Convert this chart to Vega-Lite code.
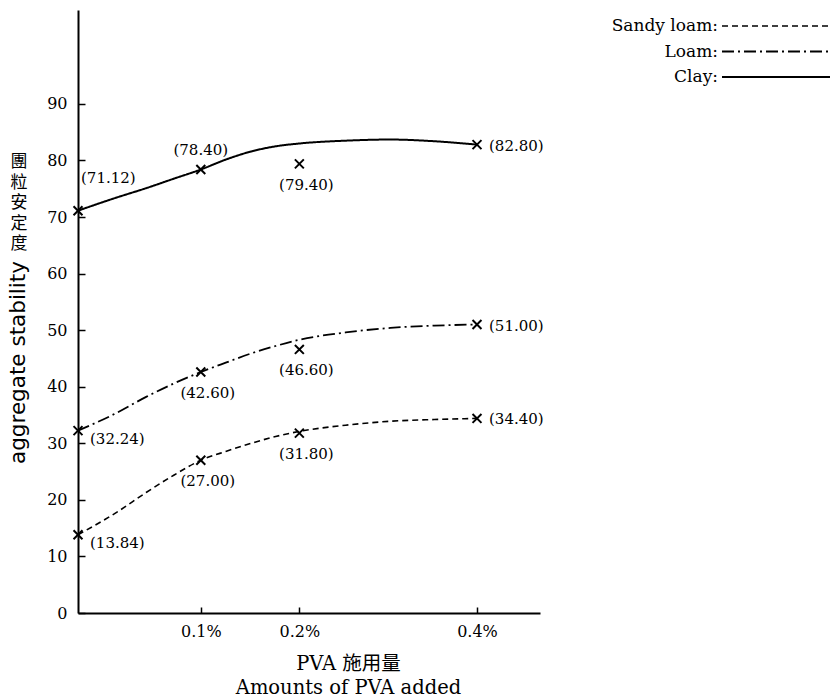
{
  "$schema": "https://vega.github.io/schema/vega-lite/v6.json",
  "width": 462,
  "height": 603,
  "autosize": {"type": "none"},
  "padding": {"left": 78, "top": 10, "right": 298, "bottom": 87},
  "background": "white",
  "config": {"view": {"stroke": null}, "font": "DejaVu Serif"},
  "title": {
    "text": ["團", "粒", "安", "定", "度"],
    "orient": "left",
    "angle": 0,
    "anchor": "end",
    "align": "center",
    "baseline": "top",
    "font": "Noto Sans CJK TC",
    "fontSize": 17,
    "fontWeight": "normal",
    "lineHeight": 20.5,
    "color": "black",
    "offset": 0,
    "dx": 29,
    "dy": 144
  },
  "datasets": {
    "curves": [
      {"soil": "Clay", "pva": 0, "stability": 71.12},
      {"soil": "Clay", "pva": 0.025, "stability": 73.4},
      {"soil": "Clay", "pva": 0.05, "stability": 75.1},
      {"soil": "Clay", "pva": 0.075, "stability": 76.8},
      {"soil": "Clay", "pva": 0.1, "stability": 78.4},
      {"soil": "Clay", "pva": 0.125, "stability": 80.2},
      {"soil": "Clay", "pva": 0.15, "stability": 81.6},
      {"soil": "Clay", "pva": 0.175, "stability": 82.5},
      {"soil": "Clay", "pva": 0.2, "stability": 83.0},
      {"soil": "Clay", "pva": 0.25, "stability": 83.5},
      {"soil": "Clay", "pva": 0.3, "stability": 83.7},
      {"soil": "Clay", "pva": 0.35, "stability": 83.4},
      {"soil": "Clay", "pva": 0.4, "stability": 82.8},
      {"soil": "Loam", "pva": 0, "stability": 32.24},
      {"soil": "Loam", "pva": 0.025, "stability": 35.3},
      {"soil": "Loam", "pva": 0.05, "stability": 38.2},
      {"soil": "Loam", "pva": 0.075, "stability": 40.6},
      {"soil": "Loam", "pva": 0.1, "stability": 42.6},
      {"soil": "Loam", "pva": 0.125, "stability": 44.3},
      {"soil": "Loam", "pva": 0.15, "stability": 45.9},
      {"soil": "Loam", "pva": 0.175, "stability": 47.2},
      {"soil": "Loam", "pva": 0.2, "stability": 48.3},
      {"soil": "Loam", "pva": 0.25, "stability": 49.6},
      {"soil": "Loam", "pva": 0.3, "stability": 50.4},
      {"soil": "Loam", "pva": 0.35, "stability": 50.8},
      {"soil": "Loam", "pva": 0.4, "stability": 51.0},
      {"soil": "Sandy loam", "pva": 0, "stability": 13.84},
      {"soil": "Sandy loam", "pva": 0.025, "stability": 17.7},
      {"soil": "Sandy loam", "pva": 0.05, "stability": 21.3},
      {"soil": "Sandy loam", "pva": 0.075, "stability": 24.4},
      {"soil": "Sandy loam", "pva": 0.1, "stability": 27.0},
      {"soil": "Sandy loam", "pva": 0.125, "stability": 28.6},
      {"soil": "Sandy loam", "pva": 0.15, "stability": 30.0},
      {"soil": "Sandy loam", "pva": 0.175, "stability": 31.2},
      {"soil": "Sandy loam", "pva": 0.2, "stability": 32.1},
      {"soil": "Sandy loam", "pva": 0.25, "stability": 33.2},
      {"soil": "Sandy loam", "pva": 0.3, "stability": 33.9},
      {"soil": "Sandy loam", "pva": 0.35, "stability": 34.2},
      {"soil": "Sandy loam", "pva": 0.4, "stability": 34.4}
    ],
    "points": [
      {"soil": "Clay", "pva": 0, "stability": 71.12, "label": "(71.12)"},
      {"soil": "Clay", "pva": 0.1, "stability": 78.4, "label": "(78.40)"},
      {"soil": "Clay", "pva": 0.2, "stability": 79.4, "label": "(79.40)"},
      {"soil": "Clay", "pva": 0.4, "stability": 82.8, "label": "(82.80)"},
      {"soil": "Loam", "pva": 0, "stability": 32.24, "label": "(32.24)"},
      {"soil": "Loam", "pva": 0.1, "stability": 42.6, "label": "(42.60)"},
      {"soil": "Loam", "pva": 0.2, "stability": 46.6, "label": "(46.60)"},
      {"soil": "Loam", "pva": 0.4, "stability": 51.0, "label": "(51.00)"},
      {"soil": "Sandy loam", "pva": 0, "stability": 13.84, "label": "(13.84)"},
      {"soil": "Sandy loam", "pva": 0.1, "stability": 27.0, "label": "(27.00)"},
      {"soil": "Sandy loam", "pva": 0.2, "stability": 31.8, "label": "(31.80)"},
      {"soil": "Sandy loam", "pva": 0.4, "stability": 34.4, "label": "(34.40)"}
    ]
  },
  "encoding": {
    "x": {
      "field": "pva",
      "type": "quantitative",
      "scale": {"type": "pow", "exponent": 0.85, "domain": [0, 0.4753], "nice": false},
      "axis": {
        "values": [0.1, 0.2, 0.4],
        "labelExpr": "format(datum.value, '.1f') + '%'",
        "grid": false,
        "domainColor": "black",
        "domainWidth": 2,
        "tickColor": "black",
        "tickWidth": 1.5,
        "tickSize": -6,
        "labelPadding": 16,
        "labelFont": "DejaVu Serif",
        "labelFontSize": 16,
        "labelColor": "black",
        "title": ["PVA 施用量", "Amounts of PVA added"],
        "titleFont": "DejaVu Serif, Noto Sans CJK TC",
        "titleFontSize": 19.5,
        "titleFontWeight": "normal",
        "titleColor": "black",
        "titleLineHeight": 24,
        "titleX": 270,
        "titleY": 41,
        "titleBaseline": "top"
      }
    },
    "y": {
      "field": "stability",
      "type": "quantitative",
      "scale": {"domain": [0, 106.6], "nice": false},
      "axis": {
        "values": [0, 10, 20, 30, 40, 50, 60, 70, 80, 90],
        "grid": false,
        "domainColor": "black",
        "domainWidth": 2,
        "tickColor": "black",
        "tickWidth": 1.5,
        "tickSize": -7,
        "labelPadding": 18,
        "labelFont": "DejaVu Serif",
        "labelFontSize": 16,
        "labelColor": "black",
        "title": "aggregate stability",
        "titleFont": "DejaVu Sans",
        "titleFontSize": 21.5,
        "titleFontWeight": "normal",
        "titleColor": "black",
        "titleAngle": 270,
        "titleAlign": "center",
        "titleBaseline": "middle",
        "titleX": -60,
        "titleY": 352
      }
    }
  },
  "layer": [
    {
      "data": {"name": "curves"},
      "mark": {"type": "line", "color": "black", "interpolate": "monotone"},
      "encoding": {
        "detail": {"field": "soil"},
        "strokeDash": {
          "field": "soil",
          "type": "nominal",
          "scale": {"domain": ["Sandy loam", "Loam", "Clay"], "range": [[6, 4], [12, 4, 2, 4], [1, 0]]},
          "legend": {
            "title": null,
            "orient": "none",
            "legendX": 688,
            "legendY": 6,
            "symbolType": "M-6,0L6,0",
            "symbolSize": 324,
            "symbolStrokeColor": "black",
            "symbolStrokeWidth": 2,
            "labelFont": "DejaVu Serif",
            "labelFontSize": 17,
            "labelColor": "black",
            "labelAlign": "right",
            "labelOffset": -68,
            "labelExpr": "datum.label + ':'",
            "rowPadding": 7.5,
            "padding": 0,
            "encode": {
              "symbols": {
                "update": {
                  "strokeDash": {
                    "condition": [
                      {"test": "datum.value === 'Sandy loam'", "value": [1, 3]},
                      {"test": "datum.value === 'Loam'", "value": [13, 5, 3, 5]}
                    ],
                    "value": [1, 0]
                  },
                  "strokeWidth": {
                    "condition": [
                      {"test": "datum.value === 'Clay'", "value": 3},
                      {"test": "datum.value === 'Loam'", "value": 1.8}
                    ],
                    "value": 1
                  }
                }
              }
            }
          }
        },
        "strokeWidth": {
          "field": "soil",
          "type": "nominal",
          "scale": {"domain": ["Sandy loam", "Loam", "Clay"], "range": [1.6, 2, 2.6]},
          "legend": null
        }
      }
    },
    {
      "data": {"name": "points"},
      "mark": {"type": "point", "shape": "M-1,-1L1,1M-1,1L1,-1", "filled": false, "color": "black", "strokeWidth": 2, "size": 80, "opacity": 1}
    },
    {
      "data": {"name": "points"},
      "transform": [{"filter": "datum.pva === 0.4"}],
      "mark": {"type": "text", "align": "left", "baseline": "middle", "dx": 12, "dy": 1, "font": "DejaVu Serif", "fontSize": 15, "color": "black"},
      "encoding": {"text": {"field": "label"}}
    },
    {
      "data": {"name": "points"},
      "transform": [{"filter": "datum.pva === 0 && datum.soil !== 'Clay'"}],
      "mark": {"type": "text", "align": "left", "baseline": "middle", "dx": 12, "dy": 8, "font": "DejaVu Serif", "fontSize": 15, "color": "black"},
      "encoding": {"text": {"field": "label"}}
    },
    {
      "data": {"name": "points"},
      "transform": [{"filter": "datum.pva === 0 && datum.soil === 'Clay'"}],
      "mark": {"type": "text", "align": "left", "baseline": "middle", "dx": 3, "dy": -33, "font": "DejaVu Serif", "fontSize": 15, "color": "black"},
      "encoding": {"text": {"field": "label"}}
    },
    {
      "data": {"name": "points"},
      "transform": [{"filter": "datum.pva === 0.1 && datum.soil === 'Clay'"}],
      "mark": {"type": "text", "align": "center", "baseline": "middle", "dx": 0, "dy": -20, "font": "DejaVu Serif", "fontSize": 15, "color": "black"},
      "encoding": {"text": {"field": "label"}}
    },
    {
      "data": {"name": "points"},
      "transform": [{"filter": "(datum.pva === 0.1 || datum.pva === 0.2) && !(datum.pva === 0.1 && datum.soil === 'Clay')"}],
      "mark": {"type": "text", "align": "center", "baseline": "middle", "dx": 7, "dy": 21, "font": "DejaVu Serif", "fontSize": 15, "color": "black"},
      "encoding": {"text": {"field": "label"}}
    }
  ]
}
